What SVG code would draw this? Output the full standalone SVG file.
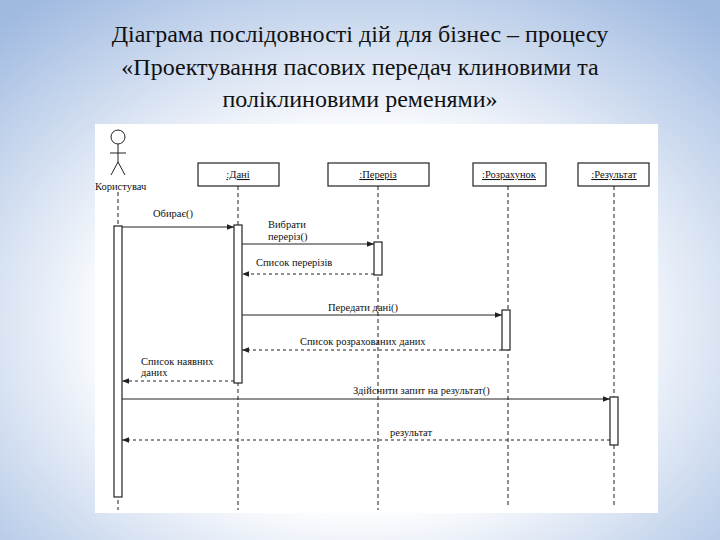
<svg xmlns="http://www.w3.org/2000/svg" width="720" height="540" viewBox="0 0 720 540">
<defs>
<radialGradient id="bg" cx="50%" cy="60%" r="75%"><stop offset="0.45" stop-color="#ffffff"/><stop offset="1" stop-color="#9fb9e0"/></radialGradient>
<marker id="ah" viewBox="0 0 10 10" refX="10" refY="5" markerWidth="7" markerHeight="7" orient="auto"><path d="M0,1 L10,5 L0,9 z" fill="#222"/></marker>
</defs>
<style>
text{font-family:"Liberation Serif","DejaVu Serif","Times New Roman",serif;fill:#111}
.title{font-size:24px;text-anchor:middle}
.s{font-size:10.5px}
.box{fill:#fff;stroke:#222;stroke-width:1.2}
.ll{stroke:#444;stroke-width:1.2;stroke-dasharray:4,3}
.act{fill:#fff;stroke:#222;stroke-width:1.2}
.m{stroke:#222;stroke-width:1;fill:none;marker-end:url(#ah)}
.r{stroke:#222;stroke-width:1;fill:none;stroke-dasharray:3,3;marker-end:url(#ah)}
</style>
<rect width="720" height="540" fill="url(#bg)"/>
<text class="title" x="360" y="42">Діаграма послідовності дій для бізнес – процесу</text>
<text class="title" x="360" y="75">«Проектування пасових передач клиновими та</text>
<text class="title" x="360" y="107">поліклиновими ременями»</text>
<rect x="95" y="124" width="563" height="389" fill="#fff"/>
<g id="lifelines">
<line class="ll" x1="118" y1="192" x2="118" y2="510"/>
<line class="ll" x1="238" y1="186" x2="238" y2="510"/>
<line class="ll" x1="378" y1="186" x2="378" y2="510"/>
<line class="ll" x1="508" y1="186" x2="508" y2="505"/>
<line class="ll" x1="614" y1="186" x2="614" y2="505"/>
</g>
<g id="user">
<circle cx="118" cy="137" r="7" fill="#fff" stroke="#222"/>
<line x1="118" y1="144" x2="118" y2="162" stroke="#222"/>
<line x1="110" y1="153" x2="126" y2="153" stroke="#222"/>
<line x1="118" y1="162" x2="111" y2="175" stroke="#222"/>
<line x1="118" y1="162" x2="125" y2="175" stroke="#222"/>
<text class="s" x="95" y="190">Користувач</text>
<rect class="act" x="114" y="226" width="8" height="271"/>
</g>
<g id="dani"><rect class="box" x="198" y="163" width="81" height="23"/><text class="s" x="238" y="178" text-anchor="middle" text-decoration="underline">:Дані</text><rect class="act" x="234" y="225" width="8" height="158"/></g>
<g id="pereriz"><rect class="box" x="328" y="163" width="101" height="23"/><text class="s" x="378" y="178" text-anchor="middle" text-decoration="underline">:Переріз</text><rect class="act" x="374" y="242" width="8" height="33"/></g>
<g id="rozrakhunok"><rect class="box" x="473" y="163" width="73" height="23"/><text class="s" x="509" y="178" text-anchor="middle" text-decoration="underline">:Розрахунок</text><rect class="act" x="502" y="310" width="8" height="40"/></g>
<g id="rezultat"><rect class="box" x="578" y="163" width="71" height="23"/><text class="s" x="614" y="178" text-anchor="middle" text-decoration="underline">:Результат</text><rect class="act" x="610" y="397" width="8" height="48"/></g>
<g id="connectors">
<line class="m" x1="122" y1="227" x2="234" y2="227"/><text class="s" x="153" y="217">Обирає()</text>
<line class="m" x1="242" y1="244" x2="374" y2="244"/><text class="s" x="268" y="228">Вибрати</text><text class="s" x="268" y="240">переріз()</text>
<line class="r" x1="374" y1="274" x2="242" y2="274"/><text class="s" x="256" y="266">Список перерізів</text>
<line class="m" x1="242" y1="315" x2="502" y2="315"/><text class="s" x="328" y="311">Передати дані()</text>
<line class="r" x1="502" y1="350" x2="242" y2="350"/><text class="s" x="300" y="345">Список розрахованих даних</text>
<line class="r" x1="234" y1="381" x2="122" y2="381"/><text class="s" x="141" y="365">Список наявних</text><text class="s" x="141" y="376">даних</text>
<line class="m" x1="122" y1="399" x2="610" y2="399"/><text class="s" x="353" y="394">Здійснити запит на результат()</text>
<line class="r" x1="610" y1="440" x2="122" y2="440"/><text class="s" x="390" y="436">результат</text>
</g>
</svg>
